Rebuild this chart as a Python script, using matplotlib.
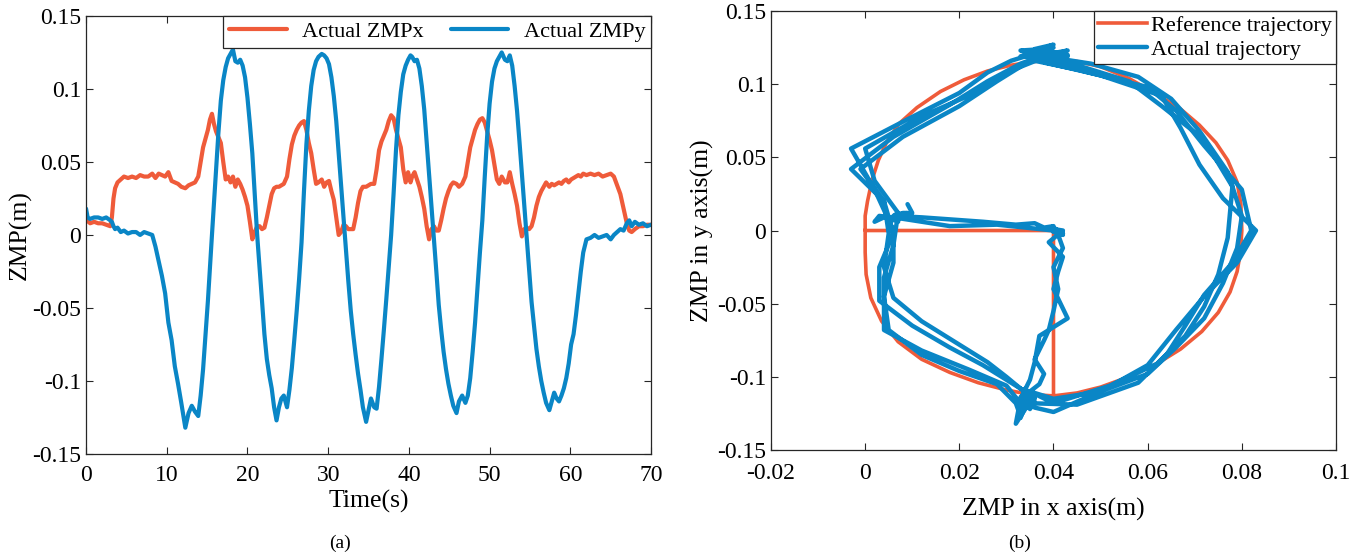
import matplotlib
matplotlib.use('Agg')
import matplotlib.pyplot as plt

plt.rcParams['font.family'] = ['Liberation Serif', 'DejaVu Serif']

ORANGE = '#EF5B3A'
BLUE = '#0A86C6'

# time samples (s) shared by both ZMP components
time_s = [
    0, 0.2, 0.5, 1.0, 1.5, 2.0, 2.5, 3.0, 3.2, 3.4, 3.6, 3.9, 4.3, 4.7, 5.2,
    5.7, 6.2, 6.7, 7.2, 7.7, 8.2, 8.6, 9.0, 9.4, 9.8, 10.2, 10.6, 11.0, 11.4, 11.8,
    12.3, 12.7, 13.1, 13.5, 13.9, 14.2, 14.5, 14.8, 15.1, 15.35, 15.6, 15.85,
    16.1, 16.4, 16.7, 17.0, 17.3, 17.6, 17.9, 18.2,
    18.5, 18.8, 19.1, 19.4, 19.7, 20.0, 20.3, 20.6, 20.9, 21.2, 21.5, 21.8,
    22.1, 22.4, 22.7, 23.0, 23.3,
    23.6, 23.9, 24.2, 24.5, 24.9, 25.2, 25.5, 25.8, 26.1, 26.4, 26.7, 27.0,
    27.3, 27.6, 27.9, 28.2, 28.5, 28.8, 29.2,
    29.5, 29.8, 30.1, 30.4, 30.7, 31.0, 31.3, 31.6, 31.9, 32.2, 32.5, 32.8,
    33.1, 33.4, 33.7, 34.0, 34.3,
    34.7, 35.0, 35.3, 35.7, 36.0, 36.3, 36.6, 36.9, 37.2, 37.5, 37.8, 38.1,
    38.4, 38.7, 39.0, 39.3, 39.6, 39.9, 40.2, 40.4,
    40.7, 41.0, 41.3, 41.6, 41.9, 42.2, 42.5, 42.8, 43.1, 43.4, 43.7, 44.0,
    44.3, 44.6, 44.9, 45.2, 45.5,
    45.9, 46.2, 46.6, 47.0, 47.3, 47.6, 47.9, 48.2, 48.5, 48.8, 49.1, 49.4,
    49.7, 50.0, 50.3, 50.6, 50.9, 51.2, 51.5,
    51.9, 52.2, 52.5, 52.8, 53.1, 53.4, 53.7, 54.0, 54.3, 54.6, 54.9, 55.2,
    55.5, 55.8, 56.1, 56.4, 56.7, 57.0, 57.4,
    57.7, 58.0, 58.3, 58.6, 58.9, 59.2, 59.5, 59.8, 60.1, 60.4, 60.7, 61.0,
    61.3, 61.6, 62.0, 62.5, 63.0, 63.5, 64.0, 64.5, 65.0, 65.4, 65.8, 66.2,
    66.6, 67.0, 67.3, 67.6, 68.0, 68.5, 69.0, 69.5, 70.0,
]

# actual ZMP in x (m)
zmp_x = [
    0.009, 0.010, 0.008, 0.009, 0.008, 0.008, 0.007, 0.006, 0.012, 0.025, 0.032,
    0.036, 0.038, 0.040, 0.039, 0.040, 0.039, 0.041, 0.040, 0.040, 0.042, 0.039,
    0.042, 0.041, 0.040, 0.043, 0.037, 0.036, 0.035, 0.033,
    0.032, 0.034, 0.035, 0.036, 0.040, 0.050, 0.060, 0.066, 0.072, 0.079, 0.083,
    0.076, 0.071, 0.067, 0.063, 0.050, 0.038, 0.040, 0.036, 0.040,
    0.033, 0.038, 0.035, 0.031, 0.026, 0.020, 0.009, -0.003, 0.002, 0.006, 0.006,
    0.004, 0.005, 0.012, 0.020, 0.028, 0.032,
    0.033, 0.033, 0.034, 0.035, 0.040, 0.052, 0.062, 0.068, 0.072, 0.075, 0.077,
    0.078, 0.072, 0.063, 0.056, 0.045, 0.035, 0.036, 0.038,
    0.033, 0.036, 0.037, 0.030, 0.024, 0.012, 0.000, 0.002, 0.007, 0.006, 0.004,
    0.004, 0.004, 0.012, 0.022, 0.030, 0.033,
    0.033, 0.034, 0.035, 0.035, 0.045, 0.058, 0.064, 0.068, 0.072, 0.078, 0.082,
    0.080, 0.072, 0.066, 0.060, 0.045, 0.036, 0.043, 0.036, 0.040,
    0.043, 0.038, 0.033, 0.026, 0.018, 0.006, -0.003, 0.004, 0.006, 0.003, 0.003,
    0.010, 0.018, 0.025, 0.030, 0.034, 0.036,
    0.035, 0.033, 0.035, 0.040, 0.050, 0.060, 0.066, 0.072, 0.076, 0.079, 0.080,
    0.077, 0.071, 0.065, 0.058, 0.048, 0.038, 0.035, 0.040,
    0.036, 0.036, 0.043, 0.035, 0.028, 0.020, 0.008, -0.001, 0.004, 0.005, 0.004,
    0.006, 0.012, 0.020, 0.026, 0.030, 0.033, 0.036, 0.033,
    0.035, 0.034, 0.035, 0.036, 0.035, 0.037, 0.038, 0.036, 0.038, 0.039, 0.040,
    0.041, 0.040, 0.042, 0.041, 0.042, 0.041, 0.042, 0.040, 0.041, 0.042, 0.040,
    0.034, 0.028, 0.018, 0.008, 0.003, 0.002, 0.004, 0.006, 0.006, 0.007, 0.007,
]

# actual ZMP in y (m)
zmp_y = [
    0.018, 0.012, 0.011, 0.012, 0.012, 0.011, 0.012, 0.010, 0.009, 0.006, 0.004,
    0.005, 0.002, 0.003, 0.001, 0.002, 0.002, 0.000, 0.002, 0.001, 0.000, -0.008,
    -0.018, -0.028, -0.040, -0.060, -0.072, -0.090, -0.102, -0.115,
    -0.132, -0.122, -0.117, -0.121, -0.124, -0.110, -0.092, -0.068, -0.045, -0.022,
    0.000, 0.022, 0.045, 0.070, 0.092, 0.106, 0.115, 0.121, 0.124, 0.127,
    0.119, 0.118, 0.120, 0.116, 0.108, 0.094, 0.076, 0.056, 0.028, 0.000, -0.022,
    -0.045, -0.068, -0.085, -0.096, -0.105, -0.118,
    -0.127, -0.118, -0.112, -0.110, -0.118, -0.106, -0.091, -0.072, -0.052, -0.030,
    -0.005, 0.030, 0.062, 0.085, 0.102, 0.113, 0.119, 0.122, 0.124,
    0.123, 0.121, 0.117, 0.108, 0.095, 0.078, 0.056, 0.034, 0.012, -0.010, -0.032,
    -0.052, -0.068, -0.082, -0.095, -0.106, -0.118,
    -0.128, -0.120, -0.112, -0.118, -0.119, -0.104, -0.085, -0.065, -0.044, -0.022,
    0.000, 0.028, 0.058, 0.082, 0.098, 0.110, 0.116, 0.120, 0.123, 0.122,
    0.119, 0.120, 0.114, 0.102, 0.086, 0.064, 0.042, 0.020, -0.002, -0.025, -0.048,
    -0.065, -0.080, -0.092, -0.102, -0.110, -0.117,
    -0.122, -0.114, -0.110, -0.115, -0.110, -0.098, -0.080, -0.060, -0.036, -0.012,
    0.010, 0.040, 0.068, 0.090, 0.105, 0.114, 0.119, 0.122, 0.125,
    0.120, 0.119, 0.123, 0.116, 0.102, 0.085, 0.064, 0.042, 0.020, -0.002, -0.025,
    -0.046, -0.062, -0.078, -0.090, -0.100, -0.108, -0.115, -0.120,
    -0.114, -0.108, -0.112, -0.114, -0.110, -0.105, -0.098, -0.088, -0.075, -0.068,
    -0.055, -0.040, -0.025, -0.012, -0.003, -0.002, 0.000, -0.002, -0.001, 0.000,
    -0.003, 0.000, 0.002, 0.004, 0.003, 0.008, 0.010, 0.006, 0.009, 0.007, 0.008,
    0.006, 0.007,
]

# reference ZMP trajectory (x, y) in m
ref_x = [
    0.040, 0.040, 0.000, 0.000, 0.0005, 0.0015, 0.0028, 0.0045, 0.0072, 0.011,
    0.016, 0.021, 0.026, 0.031, 0.036, 0.040, 0.045, 0.050, 0.056, 0.062, 0.067,
    0.071, 0.0745, 0.077, 0.079, 0.0798, 0.080, 0.0797, 0.079, 0.0775, 0.075,
    0.0715, 0.067, 0.062, 0.056, 0.050, 0.045, 0.040, 0.035, 0.030, 0.024, 0.018,
    0.012, 0.007, 0.0035, 0.0012, 0.0002, 0.000, 0.000,
]
ref_y = [
    -0.113, 0.000, 0.000, 0.010, 0.020, 0.035, 0.048, 0.060, 0.073, 0.084,
    0.095, 0.103, 0.109, 0.113, 0.1155, 0.1165, 0.1155, 0.112, 0.104, 0.093, 0.083,
    0.072, 0.060, 0.048, 0.033, 0.018, 0.000, -0.015, -0.028, -0.042, -0.056,
    -0.069, -0.081, -0.091, -0.100, -0.107, -0.111, -0.113, -0.112, -0.109, -0.104,
    -0.097, -0.088, -0.076, -0.062, -0.046, -0.030, -0.015, 0.000,
]

time_ticks = [0, 10, 20, 30, 40, 50, 60, 70]
x_ticks = [-0.02, 0, 0.02, 0.04, 0.06, 0.08, 0.1]
x_tick_labels = ['-0.02', '0', '0.02', '0.04', '0.06', '0.08', '0.1']
zmp_ticks = [-0.15, -0.1, -0.05, 0, 0.05, 0.1, 0.15]
zmp_tick_labels = ['-0.15', '-0.1', '-0.05', '0', '0.05', '0.1', '0.15']


def style_axes(ax, xpad):
    ax.tick_params(direction='in', length=5, width=0.8, labelsize=17,
                   top=True, right=True, colors='#262626', labelcolor='black')
    ax.tick_params(axis='x', pad=xpad)
    for sp in ax.spines.values():
        sp.set_linewidth(0.9)
        sp.set_color('#262626')


def style_legend(leg):
    frame = leg.get_frame()
    frame.set_edgecolor('#262626')
    frame.set_linewidth(0.9)


fig = plt.figure(figsize=(13.68, 5.56), dpi=100)
ax1 = fig.add_axes([0.0629, 0.1835, 0.4130, 0.7878])
ax2 = fig.add_axes([0.5636, 0.1906, 0.4130, 0.7896])

line_kw = dict(solid_joinstyle='round', solid_capstyle='round')

# (a) time history
ax1.plot(time_s, zmp_x, color=ORANGE, lw=3, label='Actual ZMPx', **line_kw)
ax1.plot(time_s, zmp_y, color=BLUE, lw=3, label='Actual ZMPy', **line_kw)
ax1.set_xlim(0, 70)
ax1.set_ylim(-0.15, 0.15)
ax1.set_xticks(time_ticks, [str(v) for v in time_ticks])
ax1.set_yticks(zmp_ticks, zmp_tick_labels)
style_axes(ax1, xpad=8)
ax1.set_xlabel('Time(s)', fontsize=18.5, labelpad=3)
ax1.set_ylabel('ZMP(m)', fontsize=18.5, labelpad=0)
leg1 = ax1.legend(loc='upper right', ncol=2, fontsize=16, borderaxespad=0,
                  handlelength=2.6, handletextpad=0.7, columnspacing=1.2,
                  borderpad=0.25, fancybox=False, framealpha=1)
style_legend(leg1)

# (b) x-y trajectory
ax2.plot(ref_x, ref_y, color=ORANGE, lw=2.6, label='Reference trajectory')
ax2.plot(zmp_x, zmp_y, color=BLUE, lw=3.2, label='Actual trajectory', **line_kw)
ax2.set_xlim(-0.02, 0.1)
ax2.set_ylim(-0.15, 0.15)
ax2.set_xticks(x_ticks, x_tick_labels)
ax2.set_yticks(zmp_ticks, zmp_tick_labels)
style_axes(ax2, xpad=9)
ax2.set_xlabel('ZMP in x axis(m)', fontsize=18.5, labelpad=10)
ax2.set_ylabel('ZMP in y axis(m)', fontsize=18.5, labelpad=2)
leg2 = ax2.legend(loc='upper right', fontsize=16, borderaxespad=0,
                  handlelength=2.2, handletextpad=0.15, labelspacing=0.15,
                  borderpad=0.2, fancybox=False, framealpha=1)
style_legend(leg2)

fig.text(0.2485, 0.008, '(a)', ha='center', va='bottom', fontsize=14)
fig.text(0.7455, 0.008, '(b)', ha='center', va='bottom', fontsize=14)

fig.savefig('out.png', dpi=100)
